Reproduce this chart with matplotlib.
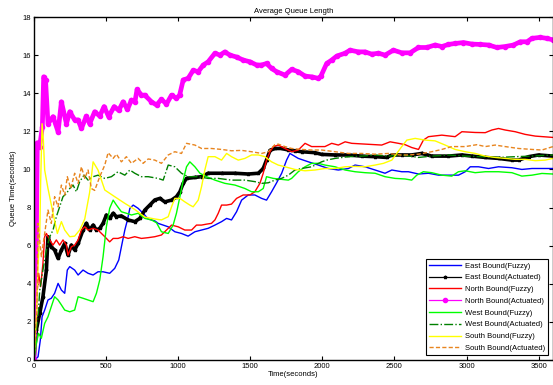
import matplotlib
matplotlib.use("Agg")
import matplotlib.pyplot as plt

# ── data (time in s, queue in s) ────────────────────────────────────
east_fuzzy_t = [0, 5, 28, 44, 56, 74, 97, 120, 143, 167, 190, 213, 231, 248, 282, 306, 340, 375,
                410, 444, 479, 525, 560, 588, 611, 630, 648, 665, 688, 722, 757, 792, 838, 861,
                931, 977, 1023, 1069, 1116, 1162, 1208, 1255, 1301, 1336, 1370, 1405, 1440, 1486,
                1532, 1579, 1613, 1648, 1683, 1718, 1752, 1775, 1833, 1903, 1972, 2042, 2111,
                2181, 2227, 2296, 2366, 2435, 2482, 2551, 2597, 2667, 2736, 2806, 2875, 2944,
                2991, 3026, 3083, 3153, 3222, 3315, 3384, 3454, 3600]
east_fuzzy_q = [0, 0, 0.17, 1.05, 2.27, 2.62, 3.15, 3.24, 3.5, 4.02, 3.67, 3.5, 4.72, 4.9, 4.72,
                4.46, 4.72, 4.55, 4.46, 4.63, 4.63, 4.55, 4.81, 5.25, 6.12, 6.82, 7.35, 7.96,
                8.13, 7.96, 7.7, 7.4, 7.3, 7.17, 6.99, 6.73, 6.64, 6.5, 6.73, 6.82, 6.91, 7.08,
                7.26, 7.43, 7.35, 7.78, 8.39, 8.66, 8.66, 8.48, 8.39, 8.83, 9.3, 9.8, 10.49,
                10.84, 10.58, 10.4, 10.23, 10.05, 9.97, 10.05, 10.23, 10.14, 9.97, 9.8, 9.97,
                9.88, 9.88, 9.76, 9.8, 9.7, 9.7, 9.7, 9.88, 10.14, 10.14, 10.05, 10.14, 10.09,
                10.0, 10.05, 10.05]

east_act_t = [0, 16, 40, 62, 86, 97, 120, 143, 167, 190, 213, 236, 259, 282, 306, 340, 363, 386,
              410, 433, 456, 479, 502, 525, 549, 572, 606, 653, 699, 734, 769, 803, 838, 873, 907,
              954, 988, 1012, 1035, 1058, 1116, 1162, 1208, 1301, 1394, 1486, 1556, 1590, 1613,
              1637, 1671, 1718, 1764, 1810, 1856, 1949, 1995, 2088, 2181, 2273, 2366, 2447,
              2482, 2551, 2620, 2690, 2759, 2875, 2968, 3037, 3130, 3222, 3315, 3361, 3431,
              3500, 3600]
east_act_q = [0, 1.57, 2.45, 3.32, 4.72, 6.47, 5.94, 5.77, 5.33, 5.77, 6.12, 5.5, 6.03, 5.77,
              6.12, 6.82, 7.17, 6.82, 7.08, 6.82, 6.91, 7.17, 7.61, 7.43, 7.7, 7.52, 7.56, 7.35,
              7.26, 7.43, 7.87, 8.13, 8.4, 8.48, 8.3, 8.39, 8.57, 8.83, 9.27, 9.53, 9.58, 9.62,
              9.8, 9.8, 9.8, 9.76, 9.8, 10.05, 10.5, 11.0, 11.1, 11.1, 11.02, 10.98, 10.93,
              10.88, 10.79, 10.76, 10.76, 10.7, 10.67, 10.63, 10.76, 10.76, 10.76, 10.84, 10.7,
              10.7, 10.76, 10.7, 10.63, 10.58, 10.49, 10.49, 10.67, 10.76, 10.7]

north_fuzzy_t = [0, 16, 32, 46, 62, 74, 86, 109, 132, 155, 178, 201, 225, 236, 259, 282, 306, 329,
                 352, 375, 410, 444, 491, 525, 549, 583, 618, 653, 699, 745, 792, 838, 884, 919,
                 954, 1000, 1046, 1093, 1127, 1162, 1197, 1231, 1255, 1278, 1301, 1336, 1370,
                 1405, 1451, 1498, 1532, 1567, 1590, 1613, 1637, 1660, 1694, 1741, 1787, 1833,
                 1880, 1926, 2018, 2065, 2111, 2158, 2204, 2296, 2412, 2470, 2528, 2574, 2620,
                 2667, 2701, 2736, 2829, 2921, 2968, 3060, 3130, 3176, 3222, 3268, 3338, 3407,
                 3477, 3600]
north_fuzzy_q = [0, 2.97, 4.55, 3.85, 5.07, 6.47, 6.64, 6.3, 6.03, 6.3, 6.03, 6.3, 6.03, 5.5,
                 5.94, 6.03, 6.3, 6.82, 6.99, 6.82, 6.91, 6.82, 6.47, 6.2, 6.38, 6.38, 6.47, 6.38,
                 6.47, 6.38, 6.42, 6.47, 6.56, 6.82, 7.08, 6.99, 6.82, 6.82, 7.08, 7.08, 7.13,
                 7.17, 7.35, 7.7, 8.13, 8.13, 8.18, 8.48, 8.66, 8.66, 8.83, 9.27, 9.8, 10.49,
                 10.93, 11.2, 11.28, 11.1, 10.93, 11.02, 11.37, 11.2, 11.2, 11.37, 11.28, 11.45,
                 11.37, 11.33, 11.28, 11.45, 11.37, 11.3, 11.15, 11.05, 11.54, 11.72, 11.8, 11.72,
                 11.98, 11.94, 11.93, 12.07, 12.15, 12.07, 11.98, 11.84, 11.75, 11.68]

north_act_t = [0, 16, 23, 39, 58, 67, 80, 97, 132, 167, 190, 225, 248, 282, 305, 329, 363, 386,
               421, 456, 486, 518, 556, 588, 618, 648, 676, 700, 715, 745, 768, 815, 850, 884,
               919, 954, 988, 1010, 1035, 1069, 1104, 1139, 1174, 1208, 1255, 1290, 1324, 1359,
               1405, 1451, 1498, 1544, 1578, 1613, 1648, 1683, 1741, 1787, 1833, 1880, 1926,
               1972, 1990, 2030, 2065, 2100, 2158, 2192, 2250, 2296, 2343, 2389, 2435, 2493,
               2551, 2609, 2667, 2725, 2782, 2829, 2875, 2921, 2979, 3037, 3095, 3153, 3210,
               3268, 3326, 3373, 3420, 3454, 3512, 3557, 3600]
north_act_q = [0, 6.3, 11.4, 11.2, 12.24, 14.86, 14.7, 12.4, 12.77, 11.98, 13.55, 12.4, 13.03,
               12.6, 12.6, 12.15, 12.8, 12.4, 13.03, 12.8, 13.3, 12.77, 13.3, 13.1, 13.55, 13.15,
               13.64, 13.55, 14.2, 13.9, 13.9, 13.55, 13.38, 13.68, 13.43, 13.9, 13.73, 13.9,
               14.7, 14.78, 15.2, 15.13, 15.48, 15.65, 16.1, 16.0, 16.17, 16.0, 15.9, 15.74,
               15.65, 15.48, 15.48, 15.56, 15.3, 15.13, 14.95, 15.25, 15.13, 14.9, 14.86, 14.78,
               14.9, 15.56, 15.74, 15.95, 16.1, 16.26, 16.17, 16.17, 16.05, 16.1, 16.0, 16.26,
               16.12, 16.12, 16.4, 16.4, 16.53, 16.45, 16.56, 16.61, 16.66, 16.58, 16.56, 16.53,
               16.4, 16.45, 16.53, 16.7, 16.7, 16.88, 16.93, 16.88, 16.8]

west_fuzzy_t = [0, 16, 32, 51, 74, 97, 120, 143, 167, 190, 213, 248, 282, 306, 340, 375, 410,
                433, 456, 479, 502, 525, 549, 572, 606, 641, 676, 722, 769, 815, 850, 884, 931,
                965, 988, 1012, 1035, 1058, 1081, 1116, 1151, 1197, 1255, 1324, 1394, 1463,
                1509, 1556, 1590, 1613, 1660, 1694, 1764, 1787, 1833, 1880, 1926, 1972, 2018,
                2088, 2158, 2227, 2296, 2366, 2435, 2505, 2574, 2620, 2655, 2701, 2759, 2829,
                2898, 2944, 2991, 3060, 3130, 3222, 3315, 3384, 3454, 3523, 3600]
west_fuzzy_q = [0, 0.87, 1.4, 1.14, 1.92, 2.27, 2.8, 3.32, 3.15, 2.89, 2.62, 2.53, 2.62, 3.32,
                3.24, 3.15, 3.06, 3.5, 4.2, 5.42, 6.99, 7.96, 8.39, 8.13, 7.78, 7.7, 7.61, 7.7,
                7.43, 7.35, 7.2, 6.73, 6.64, 7.08, 7.7, 8.57, 9.44, 10.14, 10.4, 10.14, 9.8,
                9.62, 9.44, 9.27, 9.18, 9.0, 8.83, 8.83, 9.0, 9.62, 9.53, 9.5, 9.44, 9.53, 9.88,
                10.14, 10.32, 10.32, 10.23, 10.14, 9.97, 9.88, 9.83, 9.8, 9.62, 9.53, 9.5, 9.44,
                9.7, 9.88, 9.83, 9.7, 9.65, 9.88, 9.93, 9.83, 9.88, 9.88, 9.83, 9.65, 9.7, 9.79,
                9.76]

west_act_t = [0, 15, 30, 40, 62, 86, 109, 132, 155, 178, 201, 225, 248, 271, 294, 317, 347, 375,
              410, 444, 491, 537, 583, 630, 665, 699, 745, 792, 861, 896, 931, 977, 1023, 1069,
              1139, 1208, 1278, 1370, 1463, 1532, 1579, 1625, 1671, 1717, 1764, 1810, 1856,
              1926, 1995, 2030, 2088, 2181, 2273, 2366, 2458, 2551, 2667, 2759, 2875, 2991,
              3106, 3222, 3338, 3454, 3600]
west_act_q = [0, 1.5, 2.5, 3.67, 4.72, 5.77, 6.47, 6.82, 7.52, 8.04, 8.57, 8.74, 9.0, 9.18,
              8.83, 9.36, 9.7, 9.44, 9.62, 9.7, 9.53, 9.62, 9.88, 9.7, 9.97, 9.8, 9.62, 9.62,
              9.53, 9.44, 10.23, 10.14, 9.8, 9.62, 9.62, 9.53, 9.53, 9.44, 9.44, 9.36, 9.27,
              9.3, 9.44, 9.53, 9.7, 9.97, 10.05, 10.14, 10.4, 10.49, 10.58, 10.67, 10.7, 10.76,
              10.7, 10.76, 10.63, 10.7, 10.76, 10.7, 10.67, 10.63, 10.67, 10.7, 10.76]

south_fuzzy_t = [0, 16, 28, 40, 46, 56, 65, 74, 97, 132, 162, 190, 213, 248, 282, 317, 352, 386,
                 410, 444, 491, 560, 630, 699, 769, 838, 884, 931, 954, 977, 1012, 1046, 1081,
                 1104, 1139, 1162, 1185, 1208, 1255, 1301, 1336, 1370, 1417, 1463, 1509, 1556,
                 1602, 1648, 1694, 1741, 1810, 1880, 1949, 2018, 2088, 2158, 2227, 2296, 2366,
                 2424, 2482, 2516, 2551, 2586, 2644, 2713, 2782, 2852, 2921, 2991, 3060, 3130,
                 3199, 3268, 3338, 3407, 3477, 3546, 3600]
south_fuzzy_q = [0, 2.27, 4.9, 6.64, 9.27, 12.4, 11.54, 9.97, 9.0, 7.7, 6.64, 7.26, 6.82, 6.47,
                 6.5, 6.82, 7.4, 8.8, 10.4, 9.97, 8.92, 8.57, 8.22, 7.9, 7.5, 7.4, 7.35, 7.52,
                 8.04, 8.48, 8.48, 8.3, 8.13, 8.04, 8.39, 9.09, 9.97, 10.67, 10.67, 10.49, 10.84,
                 10.67, 10.49, 10.58, 10.76, 10.76, 10.67, 10.4, 10.23, 10.14, 10.0, 9.93, 9.97,
                 10.05, 10.05, 10.14, 10.16, 10.14, 10.23, 10.32, 10.49, 10.84, 11.2, 11.54,
                 11.63, 11.54, 11.5, 11.28, 11.05, 10.93, 10.84, 10.7, 10.63, 10.58, 10.53,
                 10.53, 10.46, 10.49, 10.58]

south_act_t = [0, 10, 20, 28, 51, 74, 97, 120, 143, 167, 190, 213, 231, 255, 282, 306, 329, 352,
               375, 398, 421, 456, 491, 514, 549, 572, 606, 641, 676, 722, 757, 792, 838, 884,
               931, 977, 1023, 1058, 1116, 1162, 1231, 1301, 1370, 1440, 1509, 1579, 1625,
               1671, 1694, 1741, 1787, 1856, 1926, 1995, 2088, 2181, 2273, 2366, 2458, 2540,
               2597, 2667, 2759, 2829, 2898, 2991, 3072, 3130, 3199, 3268, 3361, 3454, 3523,
               3600]
south_act_q = [0, 1.8, 2.5, 7.17, 5.42, 6.64, 7.87, 7.17, 8.57, 8.04, 9.18, 8.66, 9.62, 9.0,
               9.8, 9.27, 10.14, 9.53, 9.97, 9.0, 8.9, 9.62, 10.23, 10.88, 10.58, 10.8, 10.4,
               10.67, 10.32, 10.58, 10.32, 10.55, 10.49, 10.32, 10.76, 10.93, 10.84, 11.37,
               11.28, 11.1, 11.1, 11.05, 10.98, 11.0, 10.93, 10.84, 10.93, 11.3, 11.33, 11.2,
               11.1, 11.05, 11.02, 11.02, 10.93, 10.84, 10.84, 10.8, 10.84, 10.76, 10.76, 10.8,
               10.93, 11.05, 11.2, 11.2, 11.3, 11.2, 11.28, 11.2, 11.1, 11.05, 11.02, 11.2]

x_ticks = [0, 500, 1000, 1500, 2000, 2500, 3000, 3500]
y_ticks = [0, 2, 4, 6, 8, 10, 12, 14, 16, 18]

# ── plot ─────────────────────────────────────────────────────────────
plt.rcParams["font.family"] = ["Liberation Sans", "DejaVu Sans"]
FS = 5.5

fig = plt.figure(figsize=(5.53, 3.85), dpi=100)
ax = fig.add_axes([34 / 553, 25 / 385, 519 / 553, 343 / 385])

magenta = (1.0, 0.0, 1.0)
orange = (0.91, 0.52, 0.12)
dkgreen = (0.0, 0.5, 0.0)

ax.plot(east_fuzzy_t, east_fuzzy_q, color="b", lw=1.0, label="East Bound(Fuzzy)")
# thick underlay for the marker-dense actuated lines
ax.plot(east_act_t, east_act_q, color="k", lw=2.6)
ax.plot(east_act_t, east_act_q, color="k", lw=0.9, marker="*", ms=2.5,
        label="East Bound(Actuated)")
ax.plot(north_fuzzy_t, north_fuzzy_q, color="r", lw=1.0, label="North Bound(Fuzzy)")
ax.plot(north_act_t, north_act_q, color=magenta, lw=3.4)
ax.plot(north_act_t, north_act_q, color=magenta, lw=0.9, marker=".", ms=6,
        label="North Bound(Actuated)")
ax.plot(west_fuzzy_t, west_fuzzy_q, color=(0, 1, 0), lw=1.0, label="West Bound(Fuzzy)")
ax.plot(west_act_t, west_act_q, color=dkgreen, lw=1.0, ls="-.", label="West Bound(Actuated)")
ax.plot(south_fuzzy_t, south_fuzzy_q, color=(1, 1, 0), lw=1.0, label="South Bound(Fuzzy)")
ax.plot(south_act_t, south_act_q, color=orange, lw=1.0, ls=(0, (3, 1.6)),
        label="South Bound(Actuated)")

ax.set_xlim(0, 3600)
ax.set_ylim(0, 18)
ax.set_xticks(x_ticks)
ax.set_yticks(y_ticks)
ax.tick_params(direction="in", length=3, width=0.8, labelsize=FS, top=True, right=True,
               pad=2, colors="black")
for s in ax.spines.values():
    s.set_linewidth(1.0)

ax.set_title("Average Queue Length", fontsize=FS, pad=3)
ax.set_xlabel("Time(seconds)", fontsize=FS, labelpad=1)
ax.set_ylabel("Queue Time(seconds)", fontsize=FS, labelpad=4)

leg = ax.legend(loc="lower right", fontsize=FS, fancybox=False, framealpha=1,
                edgecolor="black", handlelength=4.2, borderpad=0.45, labelspacing=0.58,
                handletextpad=0.5, borderaxespad=0.6, numpoints=1)
leg.get_frame().set_linewidth(0.8)

fig.savefig("out.png", dpi=100)
